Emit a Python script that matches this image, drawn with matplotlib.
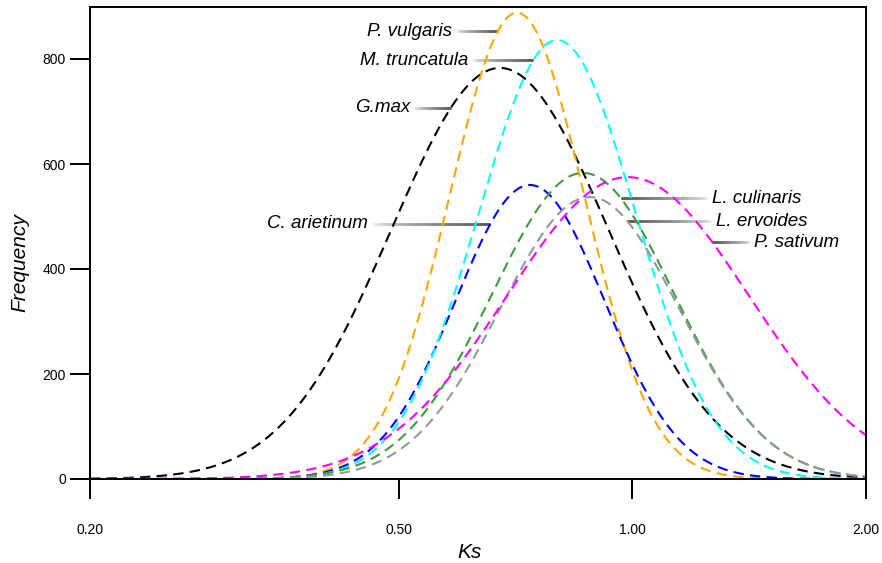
import numpy as np
import matplotlib
matplotlib.use("Agg")
import matplotlib.pyplot as plt
from matplotlib.collections import LineCollection

plt.rcParams["font.family"] = ["Liberation Sans", "DejaVu Sans"]

# fitted Ks peaks per species (gaussian in log10 Ks)
species = ["G.max", "P. vulgaris", "C. arietinum", "M. truncatula",
           "L. culinaris", "L. ervoides", "P. sativum"]
peak_ks = [0.675, 0.71, 0.738, 0.80, 0.864, 0.881, 0.987]
peak_freq = [783, 888, 560, 836, 583, 537, 575]
log_sd = [0.14, 0.087, 0.096, 0.101, 0.117, 0.115, 0.156]
colors = ["black", "orange", "blue", "cyan", "#3d9a3d", "#8f9a9a", "magenta"]

# where each name sits and which flank of its curve the leader touches
label_ks = [0.517, 0.586, 0.456, 0.614, 1.266, 1.281, 1.435]
label_freq = [707, 853, 486, 798, 535, 491, 451]
label_side = ["left", "left", "left", "left", "right", "right", "right"]

xticks = [0.2, 0.5, 1.0, 2.0]
xtick_labels = ["0.20", "0.50", "1.00", "2.00"]
yticks = [0, 200, 400, 600, 800]


def peak_curve(ks, i):
    u = np.log10(ks) - np.log10(peak_ks[i])
    return peak_freq[i] * np.exp(-u ** 2 / (2 * log_sd[i] ** 2))


def curve_x_at(freq, i, side):
    # Ks where the curve reaches a given height on one flank
    d = log_sd[i] * np.sqrt(2 * np.log(peak_freq[i] / freq))
    u = np.log10(peak_ks[i]) + (-d if side == "left" else d)
    return 10 ** u


def leader(ax, x_text, x_curve, y, n=120):
    # fading leader: pale next to the name, near black at the curve
    xs = np.logspace(np.log10(x_text), np.log10(x_curve), n + 1)
    segs = [[(xs[k], y), (xs[k + 1], y)] for k in range(n)]
    t = np.linspace(0, 1, n) ** 0.6
    g = 0.97 - t * (0.97 - 0.12)
    cols = [(v, v, v) for v in g]
    lc = LineCollection(segs, colors=cols, linewidths=2.0, capstyle="butt", zorder=1)
    ax.add_collection(lc)


fig = plt.figure(figsize=(8.82, 5.63), dpi=100)
ax = fig.add_axes([90 / 882, 1 - 479 / 563, 776 / 882, 472.5 / 563])

ks = np.logspace(np.log10(0.2), np.log10(2.0), 600)
for i in range(len(species)):
    ax.plot(ks, peak_curve(ks, i), color=colors[i], lw=1.5,
            linestyle=(0, (5, 3)), zorder=2)

gap = 10 ** (4 / 776)
for i, name in enumerate(species):
    side = label_side[i]
    xc = curve_x_at(label_freq[i], i, side)
    if side == "left":
        ax.text(label_ks[i], label_freq[i], name, ha="right", va="center",
                fontsize=13.5, style="italic")
        leader(ax, label_ks[i] * gap, xc, label_freq[i])
    else:
        ax.text(label_ks[i], label_freq[i], name, ha="left", va="center",
                fontsize=13.5, style="italic")
        leader(ax, label_ks[i] / gap, xc, label_freq[i])

ax.set_xscale("log")
ax.set_xlim(0.2, 2.0)
ax.set_ylim(0, 900)
ax.set_xticks(xticks)
ax.set_xticklabels(xtick_labels)
ax.xaxis.set_minor_locator(matplotlib.ticker.NullLocator())
ax.set_yticks(yticks)

ax.tick_params(axis="x", direction="out", length=14.4, width=1.4, pad=17, labelsize=10)
ax.tick_params(axis="y", direction="out", length=14.4, width=1.4, pad=3, labelsize=10)
for sp in ax.spines.values():
    sp.set_linewidth(1.4)

ax.set_xlabel("Ks", fontsize=15, style="italic", va="center")
ax.xaxis.set_label_coords((470 - 90) / 776, (479 - 552) / 472.5)
ax.set_ylabel("Frequency", fontsize=15, style="italic", va="center")
ax.yaxis.set_label_coords((20 - 90) / 776, (479 - 263) / 472.5)

fig.savefig("out.png", dpi=100)
